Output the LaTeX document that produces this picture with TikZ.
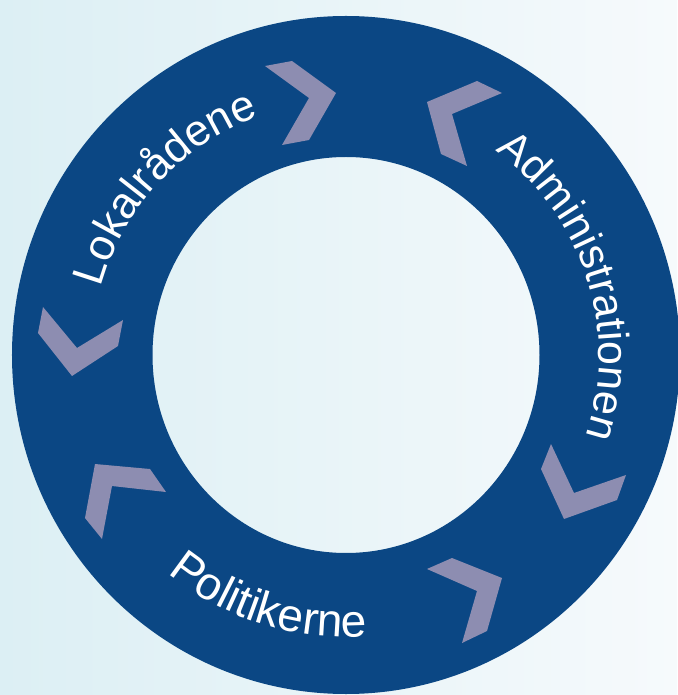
\documentclass[tikz,border=0pt]{standalone}
\usepackage{fontspec}
\newfontfamily\lfont{Liberation Sans}
\usetikzlibrary{decorations.text}
\definecolor{ringblue}{RGB}{11,71,132}
\definecolor{chev}{RGB}{141,141,177}
\definecolor{bgleft}{RGB}{220,239,244}
\definecolor{bgright}{RGB}{246,250,252}
\tikzset{
  chevron/.style={fill=chev},
  ringlabel/.style={decorate, decoration={text along path, text color=white, text align=center}},
}
\newcommand{\labfont}[1]{\lfont\fontsize{#1}{#1}\selectfont}
\begin{document}
\begin{tikzpicture}[x=1pt,y=1pt]
\useasboundingbox (-346,-340) rectangle (331,355);
\shade[left color=bgleft, right color=bgright] (-346,-340) rectangle (331,355);
\fill[ringblue, even odd rule] (0,0) ellipse[x radius=334pt, y radius=339pt]
  (0,0) ellipse[x radius=193.5pt, y radius=198pt];
% chevrons
\fill[chevron] (-81,289) -- (-54,294) -- (-10,262) -- (-37,215) -- (-64,210) -- (-37,257) -- cycle;
\fill[chevron] (156,262) -- (131,274) -- (81,253) -- (95,201) -- (121,189) -- (106,241) -- cycle;
\fill[chevron] (-303,48) -- (-269,7) -- (-223,35) -- (-228,9) -- (-274,-21) -- (-308,22) -- cycle;
\fill[chevron] (-251,-109) -- (-196,-114) -- (-180,-137) -- (-234,-131) -- (-244,-184) -- (-261,-163) -- cycle;
\fill[chevron] (81,-214) -- (106,-203) -- (156,-223) -- (141,-276) -- (116,-288) -- (131,-236) -- cycle;
\fill[chevron] (205,-89) -- (195,-114) -- (218,-164) -- (271,-145) -- (280,-120) -- (228,-138) -- cycle;
% labels
\path[ringlabel, decoration={text={|\labfont{44}|Lokalrådene}}]
  (187.3:254pt) arc[start angle=187.3, end angle=87.3, radius=254pt];
\path[ringlabel, decoration={text={|\labfont{43}|Administrationen}}]
  (72.6:253pt) arc[start angle=72.6, end angle=-37.4, radius=253pt];
\path[ringlabel, decoration={text={|\labfont{46}|Politikerne}}]
  (207.5:282pt) arc[start angle=207.5, end angle=297.5, radius=282pt];
\end{tikzpicture}
\end{document}
